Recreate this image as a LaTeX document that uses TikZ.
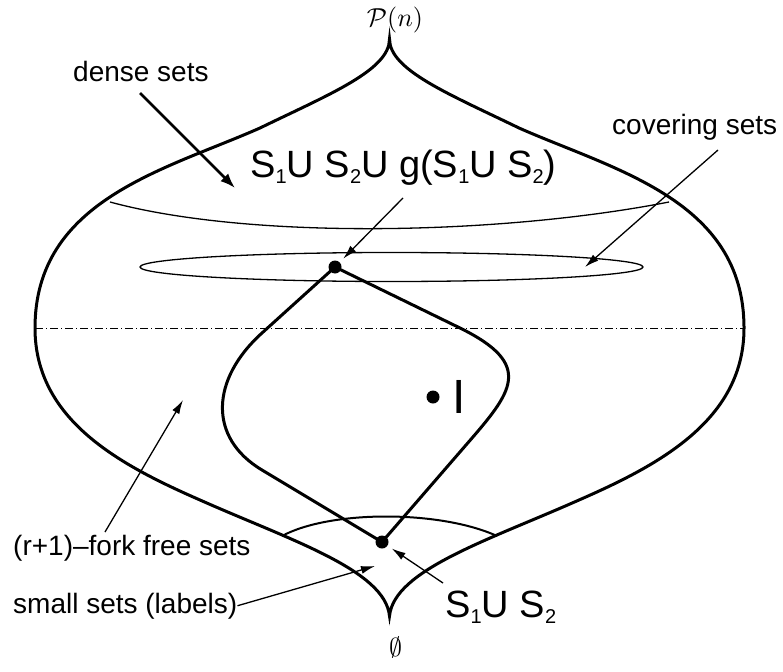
\documentclass[tikz,border=0pt]{standalone}
\usepackage{fontspec}
\setmainfont{Liberation Sans}
\usetikzlibrary{arrows.meta}
\newcommand\lowsub[1]{\raisebox{-6pt}{\fontsize{20}{20}\selectfont #1}}
\newcommand\bigmath[1]{\scalebox{2.6}{$#1$}}
\begin{document}
\begin{tikzpicture}[x=1pt,y=-1pt,
  outer/.style={line width=3pt, line join=miter},
  diam/.style={line width=3pt, line join=miter},
  thinline/.style={line width=1.3pt},
  dot/.style={circle, fill=black, inner sep=0pt, minimum size=13pt},
  lbl/.style={inner sep=0pt, font=\fontsize{28}{30}\selectfont},
  big/.style={inner sep=0pt, font=\fontsize{38}{40}\selectfont},
  mathlbl/.style={inner sep=0pt},
  thinarr/.style={-{Latex[length=14pt,width=8pt]}, line width=1.3pt},
  thickarr/.style={-{Latex[length=15pt,width=11pt]}, line width=2.6pt},
  dashdot/.style={line width=1pt, dash pattern=on 8pt off 3pt on 1pt off 3pt}]
\useasboundingbox (0,0) rectangle (783,671);

% outer boundary
\draw[outer] (389.5,39) .. controls (389.5,70) and (330,94) .. (260,128)
  .. controls (165,170) and (35,200) .. (35,328)
  .. controls (35,420) and (120,465) .. (200,500)
  .. controls (290,540) and (385,570) .. (389.5,616)
  .. controls (394,570) and (489,540) .. (579,500)
  .. controls (659,465) and (744,420) .. (744,328)
  .. controls (744,200) and (614,170) .. (519,128)
  .. controls (449,94) and (389.5,70) .. (389.5,39) -- cycle;

% dense sets boundary
\draw[thinline] (110,202) .. controls (250,240) and (500,235) .. (669,202);
% covering sets ellipse
\draw[thinline] (391.5,267) ellipse [x radius=251.5, y radius=14.5];
% small sets boundary
\draw[line width=2pt] (282,536) .. controls (330,510) and (440,510) .. (497,536);
% dash-dot line
\coordinate (DL) at (35,328);
\coordinate (DR) at (744,328);
\draw[dashdot] (DL) -- (DR);

% closed path through the two dots
\draw[diam] (335,267) -- (460,328) .. controls (535,365) and (512,392) .. (466,445)
  -- (382,542) -- (262,470) .. controls (207.5,437.5) and (211,379) .. (262,333) -- cycle;

\node[dot] (top) at (335,267) {};
\node[dot] (bot) at (382,542) {};
\node[dot] (Idot) at (433,397) {};

% labels
\node[mathlbl] (Pn) at (395,20) {\bigmath{\mathcal{P}(n)}};
\node[mathlbl] (empty) at (395.5,647) {\bigmath{\emptyset}};
\node[lbl, anchor=base west] (dense) at (73,82) {dense sets};
\node[lbl, anchor=base west] (cover) at (612,135) {covering sets};
\node[lbl, anchor=base west] (fork) at (13,555) {(r+1)\textendash fork free sets};
\node[lbl, anchor=base west] (small) at (13,613) {small sets (labels)};
\node[big, anchor=base west] (gl) at (250,177) {S\lowsub{1}U S\lowsub{2}U g(S\lowsub{1}U S\lowsub{2})};
\node[big, anchor=base west] (sl) at (445,617) {S\lowsub{1}U S\lowsub{2}};
\node[inner sep=0pt, font=\fontsize{48}{50}\selectfont, anchor=base west] (Ilbl) at (452,413) {I};

% arrow ends
\coordinate (denseTail) at (140,93);
\coordinate (denseTip) at (235,188);
\coordinate (coverTail) at (718,150);
\coordinate (coverTip) at (585,267);
\coordinate (glTail) at (403,198);
\coordinate (forkTail) at (105,532);
\coordinate (forkTip) at (183,400);
\coordinate (smallTip) at (375,566);
\coordinate (slTail) at (443,583);

\draw[thickarr] (denseTail) -- (denseTip);
\draw[thinarr] (coverTail) -- (coverTip);
\draw[thinarr, shorten >=5pt] (glTail) -- (top);
\draw[thinarr] (forkTail) -- (forkTip);
\draw[thinarr] (small.east) -- (smallTip);
\draw[thinarr, shorten >=5pt] (slTail) -- (bot);
\end{tikzpicture}
\end{document}
